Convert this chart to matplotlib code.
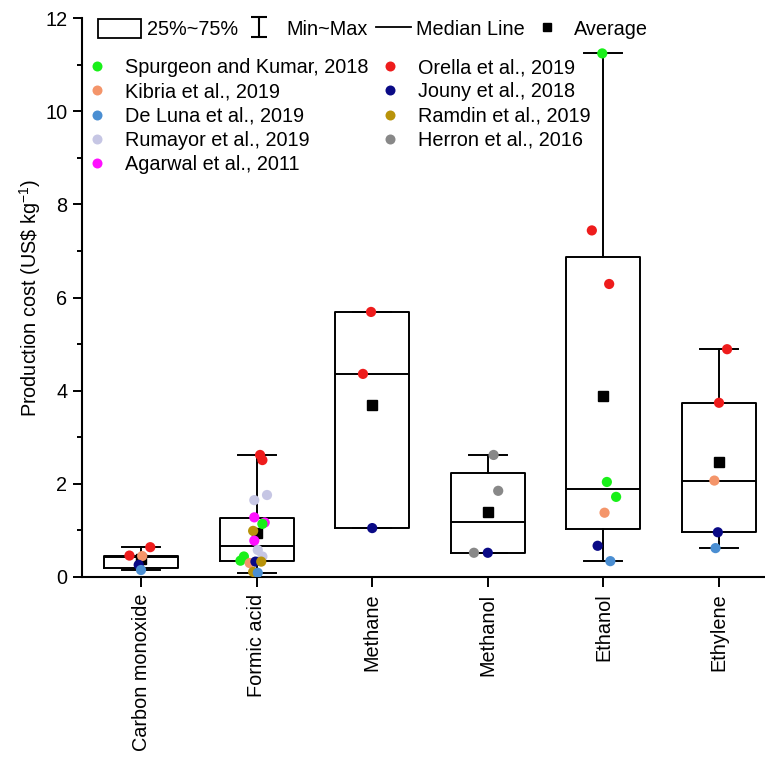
# %% ---- Requirements and constants
import numpy as np
import matplotlib.pyplot as plt
from matplotlib.lines import Line2D
from matplotlib.patches import Patch
from matplotlib.collections import LineCollection
from matplotlib.container import ErrorbarContainer
from matplotlib.legend_handler import HandlerLine2D

plt.rcParams['font.family'] = ['Liberation Sans', 'DejaVu Sans']
plt.rcParams['mathtext.fontset'] = 'custom'
plt.rcParams['mathtext.rm'] = 'Liberation Sans'
plt.rcParams['mathtext.it'] = 'Liberation Sans:italic'

categories = ['Carbon monoxide', 'Formic acid', 'Methane',
              'Methanol', 'Ethanol', 'Ethylene']

# study keys -> legend label
study_keys = ['spurgeon', 'kibria', 'deluna', 'rumayor', 'agarwal',
              'orella', 'jouny', 'ramdin', 'herron']
study_labels = ['Spurgeon and Kumar, 2018', 'Kibria et al., 2019',
                'De Luna et al., 2019', 'Rumayor et al., 2019',
                'Agarwal et al., 2011', 'Orella et al., 2019',
                'Jouny et al., 2018', 'Ramdin et al., 2019',
                'Herron et al., 2016']

# reported production costs (US$ per kg) per product
co_values = [0.64, 0.46, 0.45, 0.26, 0.15]
co_study = ['orella', 'orella', 'kibria', 'jouny', 'deluna']

formic_values = [2.62, 2.51, 1.76, 1.65, 1.28, 1.17, 1.14, 0.99, 0.78,
                 0.58, 0.44, 0.44, 0.35, 0.30, 0.33, 0.33, 0.11, 0.09]
formic_study = ['orella', 'orella', 'rumayor', 'rumayor', 'agarwal',
                'agarwal', 'spurgeon', 'ramdin', 'agarwal', 'rumayor',
                'rumayor', 'spurgeon', 'spurgeon', 'kibria', 'jouny',
                'ramdin', 'ramdin', 'deluna']

methane_values = [5.69, 4.36, 1.05]
methane_study = ['orella', 'orella', 'jouny']

methanol_values = [2.62, 1.85, 0.52, 0.52]
methanol_study = ['herron', 'herron', 'herron', 'jouny']

ethanol_values = [11.24, 7.44, 6.29, 2.04, 1.72, 1.38, 0.67, 0.34]
ethanol_study = ['spurgeon', 'orella', 'orella', 'spurgeon', 'spurgeon',
                 'kibria', 'jouny', 'deluna']

ethylene_values = [4.89, 3.74, 2.07, 0.96, 0.62]
ethylene_study = ['orella', 'orella', 'kibria', 'jouny', 'deluna']

# box statistics as drawn
box_q1 = [0.20, 0.34, 1.05, 0.52, 1.02, 0.96]
box_median = [0.42, 0.67, 4.36, 1.18, 1.88, 2.07]
box_q3 = [0.45, 1.27, 5.69, 2.23, 6.86, 3.74]
box_min = [0.15, 0.09, 1.05, 0.52, 0.34, 0.62]
box_max = [0.64, 2.62, 5.69, 2.62, 11.24, 4.89]
box_mean = [0.39, 0.94, 3.70, 1.39, 3.89, 2.46]

# horizontal jitter of the scattered points (category units)
co_jitter = [0.08, -0.10, 0.01, -0.02, 0.0]
formic_jitter = [0.03, 0.05, 0.09, -0.02, -0.02, 0.07, 0.05, -0.03, -0.02,
                 0.01, 0.05, -0.11, -0.14, -0.06, -0.01, 0.04, -0.03, 0.01]
methane_jitter = [-0.01, -0.08, 0.0]
methanol_jitter = [0.05, 0.09, -0.12, 0.0]
ethanol_jitter = [-0.01, -0.10, 0.05, 0.03, 0.11, 0.01, -0.05, 0.06]
ethylene_jitter = [0.07, 0.0, -0.04, -0.01, -0.03]

colors = {
    'spurgeon': '#19F019',
    'kibria': '#F4956A',
    'deluna': '#4A8ED2',
    'rumayor': '#C6C6E4',
    'agarwal': '#FF10FF',
    'orella': '#EE1C1C',
    'jouny': '#0A0A86',
    'ramdin': '#B8930A',
    'herron': '#888888',
}

FS = 14.3

# %% ---- Play ground
fig = plt.figure(figsize=(7.65, 7.6), dpi=100)
ax = fig.add_axes([0.1072, 0.2408, 0.8928, 0.7355])

positions = np.arange(1, len(categories) + 1)
stats = []
for i in range(len(categories)):
    stats.append(dict(q1=box_q1[i], med=box_median[i], q3=box_q3[i],
                      whislo=box_min[i], whishi=box_max[i], fliers=[]))

lw = 1.4
ax.bxp(stats, positions=positions, widths=0.64, capwidths=0.33,
       showfliers=False, patch_artist=False,
       boxprops=dict(color='k', linewidth=lw),
       whiskerprops=dict(color='k', linewidth=lw),
       capprops=dict(color='k', linewidth=lw),
       medianprops=dict(color='k', linewidth=lw), zorder=1)

ax.plot(positions, box_mean, ls='none', marker='s', markersize=7,
        color='k', zorder=2)

groups = [
    (co_values, co_study, co_jitter),
    (formic_values, formic_study, formic_jitter),
    (methane_values, methane_study, methane_jitter),
    (methanol_values, methanol_study, methanol_jitter),
    (ethanol_values, ethanol_study, ethanol_jitter),
    (ethylene_values, ethylene_study, ethylene_jitter),
]
for pos, (vals, who, jit) in zip(positions, groups):
    xs = pos + np.array(jit)
    cs = [colors[k] for k in who]
    ax.scatter(xs, vals, s=54, c=cs, edgecolors='none', zorder=3)

ax.set_xlim(0.4896, 6.398)
ax.set_ylim(0, 12)
ax.set_yticks(np.arange(0, 13, 2))
ax.set_yticks(np.arange(1, 12, 2), minor=True)
ax.set_xticks(positions)
ax.set_xticklabels(categories, rotation=90, fontsize=FS)
ax.tick_params(axis='y', which='major', length=6.5, width=1.4,
               labelsize=FS, pad=4)
ax.tick_params(axis='y', which='minor', length=3.6, width=1.4)
ax.tick_params(axis='x', which='major', length=7, width=1.4, pad=5)
ax.spines['top'].set_visible(False)
ax.spines['right'].set_visible(False)
ax.spines['left'].set_linewidth(1.5)
ax.spines['bottom'].set_linewidth(1.5)
ax.set_ylabel(r'Production cost (US\$ kg$^{-1}$)', fontsize=FS, labelpad=2)

# legend for box elements
eb_line = Line2D([], [], ls='none', color='k')
eb_cap = Line2D([], [], ls='none', marker='_', markersize=11,
                markeredgewidth=1.5, color='k')
eb_bar = LineCollection([], colors='k', linewidths=1.5)
minmax = ErrorbarContainer((eb_line, (eb_cap,), (eb_bar,)),
                           has_xerr=False, has_yerr=True)
median_handle = Line2D([], [], color='k', linewidth=1.3)
box_handles = [
    Patch(facecolor='white', edgecolor='k', linewidth=1.3),
    minmax,
    median_handle,
    Line2D([], [], ls='none', marker='s', markersize=6, color='k'),
]
box_labels = ['25%~75%', 'Min~Max', 'Median Line', 'Average']
leg1 = ax.legend(box_handles, box_labels, ncol=4, loc='upper left',
                 bbox_to_anchor=(0.0234, 0.998), frameon=False, fontsize=FS,
                 handlelength=2.17, handleheight=1.07, handletextpad=0.28,
                 columnspacing=0.0, borderpad=0, borderaxespad=0,
                 handler_map={median_handle: HandlerLine2D(xpad=0.4)})
ax.add_artist(leg1)

study_handles = [Line2D([], [], ls='none', marker='o', markersize=7.2,
                        markeredgewidth=0, color=colors[k])
                 for k in study_keys]
ax.legend(study_handles, study_labels, ncol=2, loc='upper left',
          bbox_to_anchor=(0.0103, 0.928), frameon=False, fontsize=FS,
          handlelength=0.8, handletextpad=1.0, columnspacing=0.7,
          labelspacing=0.26, borderpad=0, borderaxespad=0)

fig.savefig('out.png', dpi=100)
